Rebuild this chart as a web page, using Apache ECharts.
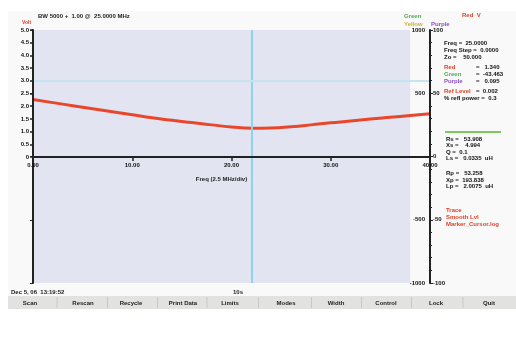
<!DOCTYPE html>
<html><head><meta charset="utf-8">
<script src="https://cdn.jsdelivr.net/npm/echarts@6/dist/echarts.min.js"></script>
<style>html,body{margin:0;padding:0;background:#fff}#c{width:516px;height:349px}</style>
</head><body><div id="c"></div>
<script>
// Data
const freqDiv = [0, 2, 4, 6, 8, 10, 12, 14, 16, 18, 20, 22, 24, 26, 28, 30, 32, 34, 36, 38, 40];
const redTrace = [2.25, 2.13, 2.01, 1.89, 1.77, 1.65, 1.53, 1.43, 1.34, 1.25, 1.17, 1.12, 1.13, 1.18, 1.25, 1.33, 1.40, 1.48, 1.55, 1.62, 1.69];
const xTicks = [0, 10, 20, 30, 40];
const leftTicks = [0, 0.5, 1, 1.5, 2, 2.5, 3, 3.5, 4, 4.5, 5];
const markerFreq = 22;
const refLevel = 3.0;
const buttons = ['Scan', 'Rescan', 'Recycle', 'Print Data', 'Limits', 'Modes', 'Width', 'Control', 'Lock', 'Quit'];
const buttonX = [30, 83, 131, 183, 230, 286, 336, 386, 436, 489];
const panelTop = [
  ['Freq =  25.0000', '#111', 43],
  ['Freq Step =  0.0000', '#111', 50],
  ['Zo =    50.000', '#111', 57]
];
const panelVals = [
  ['Red', '=   1.340', '#e0402a', 67],
  ['Green', '=  -43.463', '#4caf50', 74],
  ['Purple', '=   0.095', '#8a4fc8', 81],
  ['Ref Level', '=  0.002', '#e0402a', 91]
];
const panelZ = [
  'Rs =   53.908', 'Xs =    4.994', 'Q =  0.1', 'Ls =   0.0335  uH',
  '', 'Rp =   53.258', 'Xp =  193.838', 'Lp =   2.0075  uH'
];
const panelRed = ['Trace', 'Smooth Lvl', 'Marker_Cursor.log'];

const F = 'Liberation Sans, Arial, sans-serif';
const chart = echarts.init(document.getElementById('c'), null, {renderer: 'canvas'});

const g = [];
g.push({type: 'rect', z: -10, shape: {x: 8, y: 11, width: 508, height: 298}, style: {fill: '#f9f9f9'}});
g.push({type: 'rect', z: -9, shape: {x: 8, y: 296, width: 508, height: 13}, style: {fill: '#e2e3e0'}});
buttons.forEach((b, i) => {
  g.push({type: 'text', style: {text: b, x: buttonX[i], y: 303, fill: '#222', font: 'bold 6px ' + F, align: 'center', verticalAlign: 'middle'}});
  if (i > 0) g.push({type: 'rect', shape: {x: (buttonX[i] + buttonX[i - 1]) / 2, y: 297, width: 1, height: 11}, style: {fill: '#c8c8c4'}});
});
g.push({type: 'text', style: {text: 'Dec 5, 06  13:19:52', x: 11, y: 292, fill: '#222', font: 'bold 6px ' + F, verticalAlign: 'middle'}});
g.push({type: 'text', style: {text: '10s', x: 233, y: 292, fill: '#222', font: 'bold 6px ' + F, verticalAlign: 'middle'}});
g.push({type: 'text', style: {text: 'BW 5000 +  1.00 @  25.0000 MHz', x: 38, y: 16, fill: '#222', font: 'bold 6px ' + F, verticalAlign: 'middle'}});
g.push({type: 'text', style: {text: 'Volt', x: 22, y: 23, fill: '#e0402a', font: 'bold 5px ' + F, verticalAlign: 'middle'}});
g.push({type: 'text', style: {text: 'Green', x: 404, y: 16, fill: '#4caf50', font: 'bold 6px ' + F, verticalAlign: 'middle'}});
g.push({type: 'text', style: {text: 'Yellow', x: 404, y: 24, fill: '#c9b520', font: 'bold 6px ' + F, verticalAlign: 'middle'}});
g.push({type: 'text', style: {text: 'Purple', x: 431, y: 24, fill: '#8a4fc8', font: 'bold 6px ' + F, verticalAlign: 'middle'}});
g.push({type: 'text', style: {text: 'Red  V', x: 462, y: 15, fill: '#e0402a', font: 'bold 6px ' + F, verticalAlign: 'middle'}});
panelTop.forEach(p => g.push({type: 'text', style: {text: p[0], x: 444, y: p[2], fill: p[1], font: 'bold 6px ' + F, verticalAlign: 'middle'}}));
panelVals.forEach(p => {
  g.push({type: 'text', style: {text: p[0], x: 444, y: p[3], fill: p[2], font: 'bold 6px ' + F, verticalAlign: 'middle'}});
  g.push({type: 'text', style: {text: p[1], x: 476, y: p[3], fill: '#111', font: 'bold 6px ' + F, verticalAlign: 'middle'}});
});
g.push({type: 'text', style: {text: '% refl power =  0.3', x: 444, y: 98, fill: '#111', font: 'bold 6px ' + F, verticalAlign: 'middle'}});
g.push({type: 'rect', shape: {x: 445, y: 131, width: 56, height: 2}, style: {fill: '#7dc95e'}});
panelZ.forEach((t, i) => g.push({type: 'text', style: {text: t, x: 446, y: 139 + i * 6.5 + (i > 4 ? 2 : 0), fill: '#111', font: 'bold 6px ' + F, verticalAlign: 'middle'}}));
panelRed.forEach((t, i) => g.push({type: 'text', style: {text: t, x: 446, y: 210 + i * 7, fill: '#e0402a', font: 'bold 6px ' + F, verticalAlign: 'middle'}}));

const lbl = {fontSize: 6, fontWeight: 'bold', fontFamily: F, color: '#111'};
chart.setOption({
  animation: false,
  backgroundColor: 'transparent',
  graphic: g,
  grid: [
    {left: 33, right: 86, top: 30, bottom: 66},
    {left: 33, right: 86, top: 30, bottom: 192}
  ],
  xAxis: [
    {type: 'value', gridIndex: 0, min: 0, max: 40, show: false},
    {type: 'value', gridIndex: 1, min: 0, max: 40, interval: 10, z: 6, position: 'bottom',
     axisLine: {onZero: false, lineStyle: {color: '#222', width: 2}},
     axisTick: {length: 4, lineStyle: {color: '#222', width: 1.5}},
     axisLabel: Object.assign({}, lbl, {margin: 5, formatter: v => v.toFixed(2)}),
     splitLine: {show: false},
     name: 'Freq (2.5 MHz/div)', nameLocation: 'middle', nameGap: 19,
     nameTextStyle: {fontSize: 6, fontWeight: 'bold', fontFamily: F, color: '#222', padding: [0, 0, 0, -20]}}
  ],
  yAxis: [
    {type: 'value', gridIndex: 0, min: -5, max: 5, z: 5, position: 'left',
     axisLine: {show: true, onZero: false, lineStyle: {color: '#222', width: 2}},
     axisTick: {show: false}, axisLabel: {show: false}, splitLine: {show: false}},
    {type: 'value', gridIndex: 0, min: -100, max: 100, interval: 50, z: 5, position: 'right',
     axisLine: {show: true, onZero: false, lineStyle: {color: '#222', width: 2}},
     axisTick: {show: true, length: 3, lineStyle: {color: '#222'}},
     minorTick: {show: true, splitNumber: 5, length: 2, lineStyle: {color: '#222'}},
     axisLabel: Object.assign({}, lbl, {margin: 3, formatter: v => v === 0 ? '0' : String(v)}),
     splitLine: {show: false}},
    {type: 'value', gridIndex: 0, min: -1000, max: 1000, interval: 500, z: 5, position: 'right',
     axisLine: {show: false},
     axisTick: {show: true, inside: true, length: 3, lineStyle: {color: '#222'}},
     axisLabel: Object.assign({}, lbl, {inside: true, margin: 5, formatter: v => v === 0 ? '' : String(v)}),
     splitLine: {show: false}},
    {type: 'value', gridIndex: 1, min: 0, max: 5, interval: 0.5, z: 5, position: 'left',
     axisLine: {show: false},
     axisTick: {show: true, length: 3, lineStyle: {color: '#222', width: 1.5}},
     axisLabel: Object.assign({}, lbl, {margin: 4,
       formatter: v => v === 0 ? '0' : v.toFixed(1),
       color: v => v === refLevel ? '#7fd3ea' : '#111'}),
     splitLine: {show: false}}
  ],
  series: [{
    type: 'line', xAxisIndex: 0, yAxisIndex: 0,
    data: freqDiv.map((f, i) => [f, redTrace[i]]),
    smooth: true, showSymbol: false, symbol: 'none',
    lineStyle: {color: '#e8472b', width: 3},
    z: 3,
    markArea: {silent: true, itemStyle: {color: '#e3e4f1'},
      data: [[{xAxis: 0, yAxis: -5}, {xAxis: 38, yAxis: 5}]]},
    markLine: {silent: true, symbol: 'none', label: {show: false},
      data: [
        {xAxis: markerFreq, lineStyle: {color: '#8fd4ef', width: 2, type: 'solid'}},
        {yAxis: refLevel, lineStyle: {color: '#c4e5f0', width: 2, type: 'solid'}}
      ]}
  }]
});
</script></body></html>
